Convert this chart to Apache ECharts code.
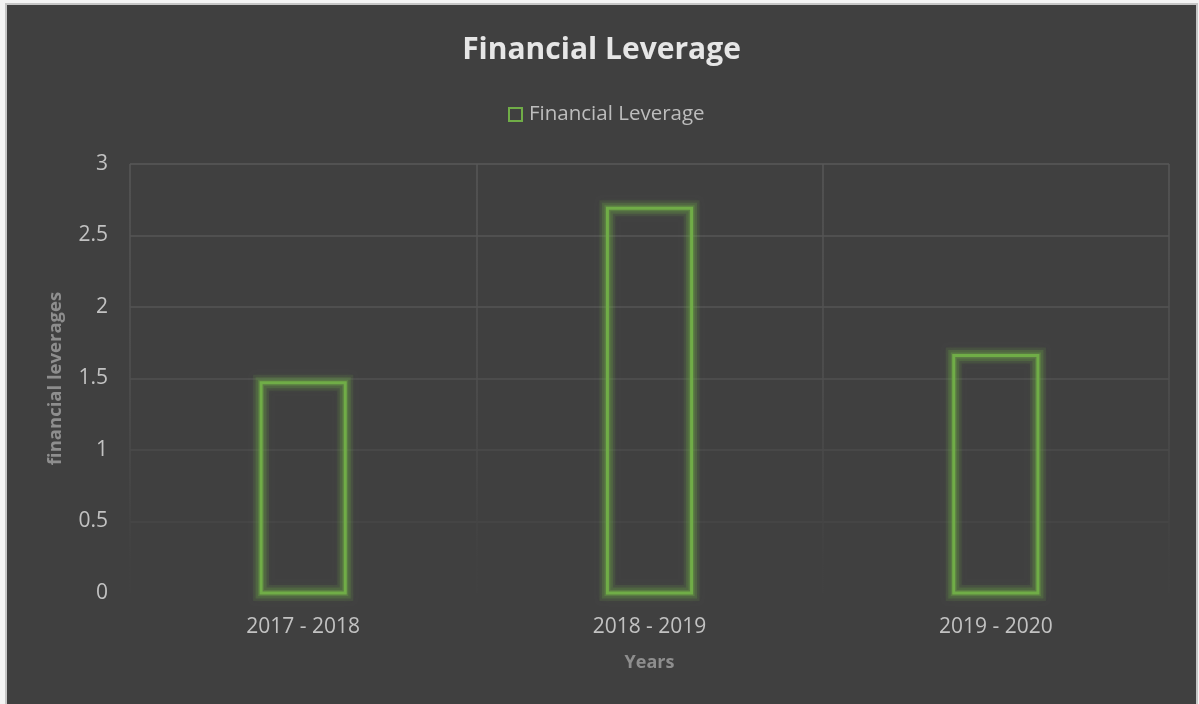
<!DOCTYPE html>
<html>
<head>
<meta charset="utf-8">
<title>Financial Leverage</title>
<script src="https://cdn.jsdelivr.net/npm/echarts@6/dist/echarts.min.js"></script>
<style>
  html, body { margin: 0; padding: 0; background: #f4f4f4; width: 1199px; height: 704px; overflow: hidden; }
  #frame { position: absolute; left: 5px; top: 3px; width: 1193px; height: 712px; border: 2px solid #c6c6c6; box-sizing: border-box; }
  #chart { position: absolute; left: 7px; top: 5px; width: 1189px; height: 699px; }
</style>
</head>
<body>
<div id="frame"></div>
<div id="chart"></div>
<script>
// Fiscal periods and the leverage ratio for each
const periods = ['2017 - 2018', '2018 - 2019', '2019 - 2020'];
const leverage = [1.47, 2.69, 1.66];
const seriesName = 'Financial Leverage';
const yTicks = { min: 0, max: 3, interval: 0.5 };

const green = '#70ad47';
const font = "'Open Sans', 'DejaVu Sans', sans-serif";
const barShare = 0.243; // bar width as a share of one category band

// Outlined bar with a soft green glow on both sides of the outline
function renderGlowBar(params, api) {
  const idx = api.value(0);
  const val = api.value(1);
  const top = api.coord([idx, val]);
  const base = api.coord([idx, 0]);
  const w = api.size([1, 0])[0] * barShare;
  const shape = { x: top[0] - w / 2, y: top[1], width: w, height: base[1] - top[1] };
  return {
    type: 'group',
    children: [
      { type: 'rect', shape, style: { fill: 'none', stroke: 'rgba(112,173,71,0.12)', lineWidth: 16 } },
      { type: 'rect', shape, style: { fill: 'none', stroke: 'rgba(112,173,71,0.2)', lineWidth: 11,
        shadowBlur: 6, shadowColor: 'rgba(112,173,71,0.55)' } },
      { type: 'rect', shape, style: { fill: 'none', stroke: 'rgba(112,173,71,0.3)', lineWidth: 6 } },
      { type: 'rect', shape, style: { fill: 'none', stroke: green, lineWidth: 3 } }
    ]
  };
}

const chart = echarts.init(document.getElementById('chart'), null, { renderer: 'canvas' });

chart.setOption({
  backgroundColor: '#404040',
  animation: false,
  title: {
    text: 'Financial Leverage',
    left: 'center',
    top: 25,
    padding: 0,
    textStyle: { color: '#e6e6e6', fontFamily: font, fontWeight: 'bold', fontSize: 30, lineHeight: 40 }
  },
  legend: {
    data: [seriesName],
    left: 501,
    top: 99,
    padding: 0,
    itemWidth: 13,
    itemHeight: 13,
    icon: 'rect',
    itemStyle: { color: 'transparent', borderColor: green, borderWidth: 2, shadowBlur: 0 },
    textStyle: { color: '#bdbdbd', fontFamily: font, fontSize: 20.5, padding: [0, 0, 0, 2] }
  },
  grid: { left: 123, right: 27, top: 159, bottom: 111, containLabel: false },
  xAxis: {
    type: 'category',
    data: periods,
    name: 'Years',
    nameLocation: 'middle',
    nameGap: 61,
    nameTextStyle: { color: '#8e8e8e', fontFamily: font, fontWeight: 'bold', fontSize: 18 },
    axisLine: { show: false },
    axisTick: { show: false },
    axisLabel: { color: '#c2c2c2', fontFamily: font, fontSize: 21, margin: 24 },
    splitLine: {
      show: true,
      lineStyle: {
        width: 1.5,
        color: new echarts.graphic.LinearGradient(0, 159, 0, 560, [
          { offset: 0, color: '#575757' },
          { offset: 0.55, color: '#4f4f4f' },
          { offset: 1, color: '#414141' }
        ], true)
      }
    }
  },
  yAxis: {
    type: 'value',
    min: yTicks.min,
    max: yTicks.max,
    interval: yTicks.interval,
    name: 'financial leverages',
    nameLocation: 'middle',
    nameGap: 65,
    nameTextStyle: { color: '#8e8e8e', fontFamily: font, fontWeight: 'bold', fontSize: 18.5 },
    axisLine: { show: false },
    axisTick: { show: false },
    axisLabel: { color: '#c2c2c2', fontFamily: font, fontSize: 21, margin: 22 },
    splitLine: {
      show: true,
      lineStyle: {
        width: 1.5,
        color: ['#414141', '#474747', '#4b4b4b', '#515151', '#545454', '#565656', '#585858']
      }
    }
  },
  series: [{
    name: seriesName,
    type: 'custom',
    renderItem: renderGlowBar,
    encode: { x: 0, y: 1 },
    itemStyle: { color: green },
    data: leverage.map((v, i) => [i, v])
  }]
});
</script>
</body>
</html>
